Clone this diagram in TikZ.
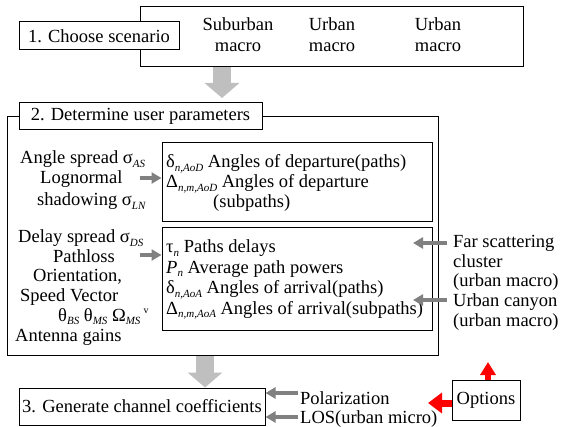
\documentclass[tikz,border=0pt]{standalone}
\usepackage{fontspec}
\setmainfont{Liberation Serif}
\usetikzlibrary{arrows.meta}
\newcommand{\sbx}[1]{\raisebox{-3.5pt}{\fontsize{11}{11}\selectfont\itshape #1}}
\newcommand{\spx}[1]{\raisebox{8pt}{\fontsize{10}{10}\selectfont #1}}
\tikzset{
  txt/.style={inner sep=0pt, anchor=base west, font=\fontsize{18.5}{20}\selectfont},
  ctxt/.style={inner sep=0pt, anchor=base, font=\fontsize{18.5}{20}\selectfont},
  box/.style={draw=black, line width=1pt, fill=white, inner sep=0pt, font=\fontsize{18.5}{20}\selectfont},
  bigarrow/.style={draw=gray!50, line width=18pt, -{Triangle[width=34pt,length=15pt]}},
  smallarrow/.style={draw=gray, line width=3.5pt, -{Triangle[width=11pt,length=10pt]}},
  redarrow/.style={draw=red, line width=7pt, -{Triangle[width=20pt,length=14pt]}},
  redup/.style={draw=red, line width=6pt, -{Triangle[width=15pt,length=13pt]}},
}
\begin{document}
\begin{tikzpicture}[x=1pt,y=-1pt]
\useasboundingbox (0,0) rectangle (564,427);
% boxes
\node[box, minimum width=383pt, minimum height=60pt] (scen) at (331.5,37) {};
\node[box, minimum width=160pt, minimum height=28pt] (choose) at (99,36) {1. Choose scenario};
\node[ctxt] (sub1) at (238,31) {Suburban};
\node[ctxt] (sub2) at (238,52) {macro};
\node[ctxt] (urb1) at (332,31) {Urban};
\node[ctxt] (urb2) at (332,52) {macro};
\node[ctxt] (urc1) at (438,31) {Urban};
\node[ctxt] (urc2) at (438,52) {macro};

\node[box, minimum width=431pt, minimum height=238pt] (big) at (222.5,236) {};
\node[box, minimum width=243pt, minimum height=27pt] (det) at (140.5,116.5) {2. Determine user parameters};
\node[box, minimum width=270pt, minimum height=79pt] (aod) at (297,182.5) {};
\node[box, minimum width=270pt, minimum height=102pt] (aoa) at (297,279) {};
\node[box, minimum width=246pt, minimum height=37pt] (gen) at (142,406.5) {3. Generate channel coefficients};
\node[box, minimum width=68pt, minimum height=40pt] (opt) at (486,400) {Options};

% left texts
\node[txt] (l1) at (20,164) {Angle spread σ\sbx{AS}};
\node[txt] (l2) at (40,184) {Lognormal};
\node[txt] (l3) at (37,206) {shadowing σ\sbx{LN}};
\node[txt] (l4) at (18,243) {Delay spread σ\sbx{DS}};
\node[txt] (l5) at (53,262) {Pathloss};
\node[txt] (l6) at (33,281) {Orientation,};
\node[txt] (l7) at (20,301) {Speed Vector};
\node[txt] (l8) at (58,321) {θ\sbx{BS} θ\sbx{MS} Ω\sbx{MS}\,\spx{v}};
\node[txt] (l9) at (15,341) {Antenna gains};

% inner box texts
\node[txt] (d1) at (166,168) {δ\sbx{n,AoD} Angles of departure(paths)};
\node[txt] (d2) at (166,188) {Δ\sbx{n,m,AoD} Angles of departure};
\node[txt] (d3) at (213,208) {(subpaths)};
\node[txt] (e1) at (166,253) {τ\sbx{n} Paths delays};
\node[txt] (e2) at (166,273) {\textit{P}\sbx{n} Average path powers};
\node[txt] (e3) at (166,294) {δ\sbx{n,AoA} Angles of arrival(paths)};
\node[txt] (e4) at (166,314) {Δ\sbx{n,m,AoA} Angles of arrival(subpaths)};

% right texts
\node[txt] (r1) at (453,248) {Far scattering};
\node[txt] (r2) at (453,268) {cluster};
\node[txt] (r3) at (453,287) {(urban macro)};
\node[txt] (r4) at (453,306) {Urban canyon};
\node[txt] (r5) at (453,326) {(urban macro)};

% bottom texts
\node[txt] (p1) at (300,404) {Polarization};
\node[txt] (p2) at (300,423) {LOS(urban micro)};

% connectors
\coordinate (a1) at (222,98);
\draw[bigarrow] (scen.south -| a1) -- (a1);
\coordinate (a2) at (205,0);
\draw[bigarrow] (big.south -| a2) -- (gen.north -| a2);

\coordinate (s1) at (140,178);
\draw[smallarrow] (s1) -- (aod.west |- s1);
\coordinate (s2) at (140,255);
\draw[smallarrow] (s2) -- (aoa.west |- s2);

\coordinate (t1) at (447,243);
\coordinate (t1e) at (413,243);
\draw[smallarrow] (t1) -- (t1e);
\coordinate (t2) at (447,300);
\coordinate (t2e) at (413,300);
\draw[smallarrow] (t2) -- (t2e);

\coordinate (u1) at (298,393);
\draw[smallarrow] (u1) -- (gen.east |- u1);
\coordinate (u2) at (298,417);
\draw[smallarrow] (u2) -- (gen.east |- u2);

\coordinate (v1) at (428,403);
\draw[redarrow] (opt.west |- v1) -- (v1);
\coordinate (v2) at (488,362);
\draw[redup] (opt.north -| v2) -- (v2);
\end{tikzpicture}
\end{document}
